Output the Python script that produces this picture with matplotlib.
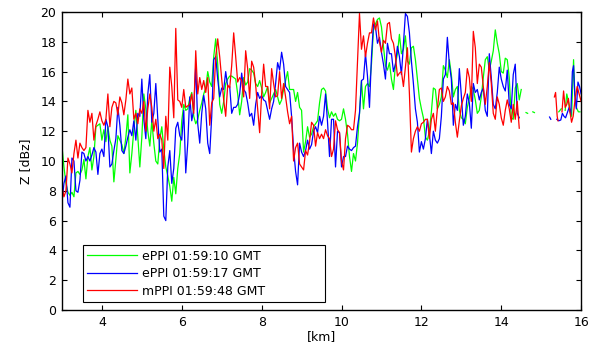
import numpy as np
import matplotlib
matplotlib.use("Agg")
import matplotlib.pyplot as plt

plt.rcParams['font.family'] = ['DejaVu Sans']

# ---------------- data ----------------
km_start = 3.0
km_step = 0.05

green_db = [
    11.0, 9.6, 8.5, 7.9, 7.7, 7.9, 7.6, 9.2, 9.3, 9.1,
    9.4, 10.1, 8.8, 10.3, 10.9, 9.4, 10.3, 12.3, 12.4, 12.5,
    11.4, 12.1, 11.3, 12.3, 11.4, 11.0, 8.6, 10.1, 11.7, 11.4,
    11.1, 10.5, 11.6, 13.1, 9.2, 10.5, 12.1, 13.4, 11.6, 9.6,
    11.6, 14.5, 13.5, 12.0, 11.0, 12.7, 11.2, 10.0, 9.8, 11.5,
    12.3, 10.8, 9.6, 9.0, 8.3, 7.3, 8.9, 7.8, 9.5, 10.5,
    12.7, 13.8, 13.4, 13.5, 14.2, 14.6, 13.0, 12.5, 12.8, 13.4,
    13.9, 14.5, 14.9, 16.0, 15.3, 15.0, 17.0,
    18.2, 16.5, 13.8, 13.2, 14.0, 15.2, 15.5, 15.7, 15.7, 15.6,
    15.5, 14.5, 13.1, 14.0, 15.6, 15.1, 15.3, 16.2, 16.1, 15.9,
    15.2, 15.0, 15.4, 14.9, 14.3, 14.6, 15.0, 13.9, 14.2, 14.5,
    14.8, 14.3, 13.8, 14.1, 14.8,
    15.4, 16.0, 14.8, 14.8, 14.8, 14.0, 14.6, 13.6, 13.4, 10.6,
    11.3, 12.3, 11.6, 11.8, 12.3, 12.5, 12.7, 13.9, 14.8, 14.9,
    14.7, 13.5, 12.9, 13.3, 13.0, 13.2, 12.8, 12.7, 12.8, 13.5,
    12.8, 11.8, 10.3, 9.3, 10.5, 10.0, 11.2, 13.2, 15.4,
    13.5, 15.0, 15.2, 15.0, 16.5, 18.8, 19.2, 19.5, 19.6, 19.0,
    17.7, 16.4, 16.1, 16.6, 15.5, 14.8, 16.5, 17.2, 18.5, 17.2,
    17.5, 18.4, 16.7, 16.5, 17.6, 17.7, 16.8, 15.5, 14.2, 13.5,
    12.9, 11.6, 11.4, 12.0, 13.3, 14.9, 14.8, 13.5,
    13.8, 14.3, 16.4, 16.1, 15.6, 16.8, 15.8, 14.3, 14.8, 15.0,
    13.4, 12.9, 12.8, 12.5, 13.6, 14.2, 15.0, 14.8, 14.1, 13.2,
    13.4, 14.3, 15.6, 16.8, 17.0, 16.1, 16.7, 17.4, 18.8, 17.9,
    17.2, 16.0, 15.9, 16.9, 16.8, 15.6, 12.9, 12.8, 14.9, 15.2,
    14.1, 14.8,
]

blue_db = [
    7.2, 8.5, 9.0, 7.2, 6.9, 10.2, 10.0, 8.0, 7.9, 8.7,
    10.6, 10.5, 10.0, 10.3, 10.0, 10.4, 10.9, 10.6, 9.1, 10.5,
    10.8, 10.3, 12.8, 12.3, 9.6, 9.8, 10.7, 11.5, 13.6, 12.4,
    10.7, 10.5, 11.0, 11.6, 12.1, 11.7, 12.7, 11.4, 13.2, 13.0,
    15.5, 12.8, 11.5, 14.5, 15.8, 12.6, 13.2, 15.2, 12.8, 10.6,
    10.8, 6.3, 6.0, 9.6, 10.7, 8.5, 9.5, 12.2, 12.6, 11.7,
    11.4, 13.4, 9.2, 11.2, 14.3, 12.7, 13.5, 16.4, 12.5, 11.2,
    13.2, 14.4, 13.5, 11.2, 10.5, 13.0, 16.8,
    17.0, 15.5, 14.3, 14.9, 14.8, 16.0, 15.0, 15.0, 13.2, 13.6,
    13.6, 13.8, 14.5, 15.9, 14.8, 14.6, 13.9, 13.0, 13.2, 12.4,
    13.8, 14.6, 14.2, 14.4, 14.1, 14.0, 13.4, 12.8, 13.5, 14.0,
    15.2, 16.6, 16.1, 17.3, 16.5,
    15.0, 14.8, 14.6, 13.0, 10.8, 9.3, 8.4, 11.2, 10.6, 10.3,
    10.7, 11.4, 10.8, 11.1, 12.0, 12.3, 11.9, 13.0, 12.4, 13.0,
    14.5, 12.6, 10.3, 12.8, 12.8, 9.6, 12.0, 11.9, 9.6, 10.3,
    10.3, 11.0, 10.8, 10.7, 10.9, 11.0, 12.3, 13.2, 15.4,
    15.5, 17.2, 15.7, 13.6, 17.0, 19.2, 19.0, 17.9, 18.3, 17.3,
    16.5, 15.5, 17.9, 17.2, 17.2, 16.0, 16.5, 17.7, 17.0, 15.8,
    17.8, 19.9, 19.7, 18.6, 16.7, 15.2, 13.5, 12.6, 10.6, 11.3,
    10.8, 11.5, 12.8, 11.8, 10.5, 12.0, 11.4, 11.2,
    11.5, 13.0, 15.5, 15.8, 18.3, 16.5, 15.5, 12.4, 13.8, 13.4,
    16.2, 14.4, 12.4, 13.0, 14.5, 13.9, 12.2, 15.2, 14.6, 14.8,
    14.1, 14.6, 14.9, 13.4, 13.0, 17.2, 15.6, 13.8, 13.5, 14.6,
    16.3, 15.5, 15.0, 14.7, 16.1, 13.8, 13.5, 15.8, 16.5, 13.2,
    12.9, np.nan,
]

red_db = [
    8.3, 7.6, 8.0, 10.2, 9.8, 9.2, 10.5, 11.4, 10.2, 11.2,
    10.9, 10.7, 10.9, 13.4, 12.6, 13.2, 11.4, 12.4, 12.8, 13.3,
    12.7, 12.4, 12.8, 14.5, 12.3, 13.6, 14.0, 13.9, 13.1, 14.3,
    13.9, 13.1, 14.1, 15.5, 14.5, 14.9, 12.8, 13.2, 12.5, 13.5,
    13.2, 14.0, 12.0, 13.5, 14.5, 13.6, 12.0, 12.8, 11.5, 11.8,
    11.4, 9.5, 13.0, 11.4, 16.3, 15.0, 12.9, 18.9, 14.1, 14.0,
    13.6, 14.8, 13.6, 13.7, 13.8, 14.5, 13.2, 17.4, 14.5, 15.6,
    14.8, 15.4, 14.6, 15.6, 12.4, 13.9, 14.2,
    17.0, 18.2, 17.0, 15.5, 14.1, 13.0, 15.1, 14.9, 16.4, 18.6,
    17.0, 15.3, 15.6, 15.4, 14.3, 17.4, 16.2, 14.2, 16.7, 16.3,
    15.1, 13.5, 11.9, 14.5, 16.5, 15.0, 15.0, 13.5, 16.2, 15.2,
    14.3, 14.4, 16.0, 14.2, 15.2,
    14.3, 13.3, 12.5, 13.0, 10.0, 10.9, 11.2, 9.8, 9.6, 9.4,
    10.7, 10.4, 11.3, 12.6, 12.4, 11.0, 11.9, 11.5, 11.8, 11.5,
    12.1, 11.7, 11.5, 10.3, 10.8, 12.7, 12.1, 11.9, 10.0, 9.4,
    11.5, 12.4, 12.3, 12.1, 12.1, 13.4, 16.6, 19.9, 17.5,
    18.4, 17.0, 17.9, 18.6, 18.6, 19.6, 18.8, 19.4, 18.0, 17.3,
    18.1, 17.9, 19.2, 19.3, 18.2, 17.9, 17.0, 15.7, 15.9, 16.0,
    15.0, 16.3, 17.6, 14.5, 10.6, 11.5, 12.0, 12.3, 12.0, 12.5,
    12.6, 12.8, 12.8, 11.5, 12.8, 13.2, 12.0, 13.5,
    14.8, 14.9, 14.0, 14.3, 15.0, 14.7, 13.8, 13.9, 12.6, 11.6,
    12.7, 13.7, 14.2, 14.6, 16.2, 15.6, 14.0, 18.7, 17.6, 15.2,
    16.5, 16.3, 15.0, 13.8, 15.0, 16.6, 15.2, 13.2, 12.8, 14.3,
    13.8, 12.9, 12.4, 13.4, 14.1, 13.5, 12.6, 13.8, 12.8, 14.0,
    12.2, np.nan,
]

# short broken pieces beyond 14.5 km (NaN = gap)
green_tail_km = [np.nan, 14.62, 14.66, np.nan, 14.79, 14.83, np.nan, 15.44, 15.50, np.nan,
                 15.60, 15.64, 15.68, 15.72, 15.76, 15.78, 15.81, 15.84, 15.88, 15.93, 15.97]
green_tail_db = [np.nan, 13.25, 13.2, np.nan, 13.3, 13.25, np.nan, 13.3, 13.5, np.nan,
                 13.4, 14.5, 14.0, 13.4, 13.0, 14.5, 16.8, 14.5, 13.6, 13.3, 13.3]
blue_tail_km = [np.nan, 15.21, 15.24, np.nan, 15.39, 15.44, 15.49, 15.53, 15.57, 15.61,
                15.66, 15.70, 15.74, 15.78, 15.81, 15.84, 15.88, 15.92, 15.96, 16.0]
blue_tail_db = [np.nan, 12.95, 12.8, np.nan, 12.8, 12.7, 12.75, 13.2, 13.0, 12.9,
                13.3, 13.6, 13.1, 16.0, 16.4, 14.5, 13.5, 15.3, 15.0, 14.5]
red_tail_km = [np.nan, 15.33, 15.36, 15.40, 15.42, np.nan, 15.52, 15.56, 15.60, 15.64,
               15.68, 15.72, 15.76, 15.80, 15.85, 15.90, 15.95, 16.0]
red_tail_db = [np.nan, 14.3, 14.6, 13.0, 12.7, np.nan, 13.3, 14.7, 13.6, 13.8,
               14.2, 13.3, 12.6, 13.0, 14.2, 15.0, 14.5, 14.0]

labels = ['ePPI 01:59:10 GMT', 'ePPI 01:59:17 GMT', 'mPPI 01:59:48 GMT']
colors = ['#00ff00', '#0000ff', '#ff0000']

x_ticks = [4, 6, 8, 10, 12, 14, 16]
y_ticks = [0, 2, 4, 6, 8, 10, 12, 14, 16, 18, 20]

# ---------------- plot ----------------
km = np.round(km_start + km_step * np.arange(len(green_db)), 2)

fig = plt.figure(figsize=(5.90, 3.47), dpi=100)
ax = fig.add_axes([0.105, 0.1066, 0.880, 0.8588])

series = [
    (green_db, green_tail_km, green_tail_db),
    (blue_db, blue_tail_km, blue_tail_db),
    (red_db, red_tail_km, red_tail_db),
]
for (main, tkm, tdb), lab, col in zip(series, labels, colors):
    xs = np.concatenate([km, np.array(tkm, dtype=float)])
    ys = np.concatenate([np.array(main, dtype=float), np.array(tdb, dtype=float)])
    ax.plot(xs, ys, color=col, lw=0.9, label=lab)

ax.set_xlim(3, 16)
ax.set_ylim(0, 20)
ax.set_xticks(x_ticks)
ax.set_yticks(y_ticks)
ax.tick_params(direction='in', length=3.5, width=0.8, top=True, right=True,
               labelsize=9, pad=4, colors='black')
for s in ax.spines.values():
    s.set_linewidth(1.0)
    s.set_color('black')

ax.set_xlabel('[km]', fontsize=9, labelpad=1)
ax.set_ylabel('Z [dBz]', fontsize=9, labelpad=6)

leg = ax.legend(loc='lower left', bbox_to_anchor=(0.04, 0.027, 0.466, 0.2),
                mode='expand', borderaxespad=0, fontsize=9, handlelength=4.0,
                handletextpad=0.4, labelspacing=0.35, borderpad=0.35,
                fancybox=False, framealpha=1, edgecolor='black')
leg.get_frame().set_linewidth(0.8)

fig.savefig('out.png', dpi=100, facecolor='white')
